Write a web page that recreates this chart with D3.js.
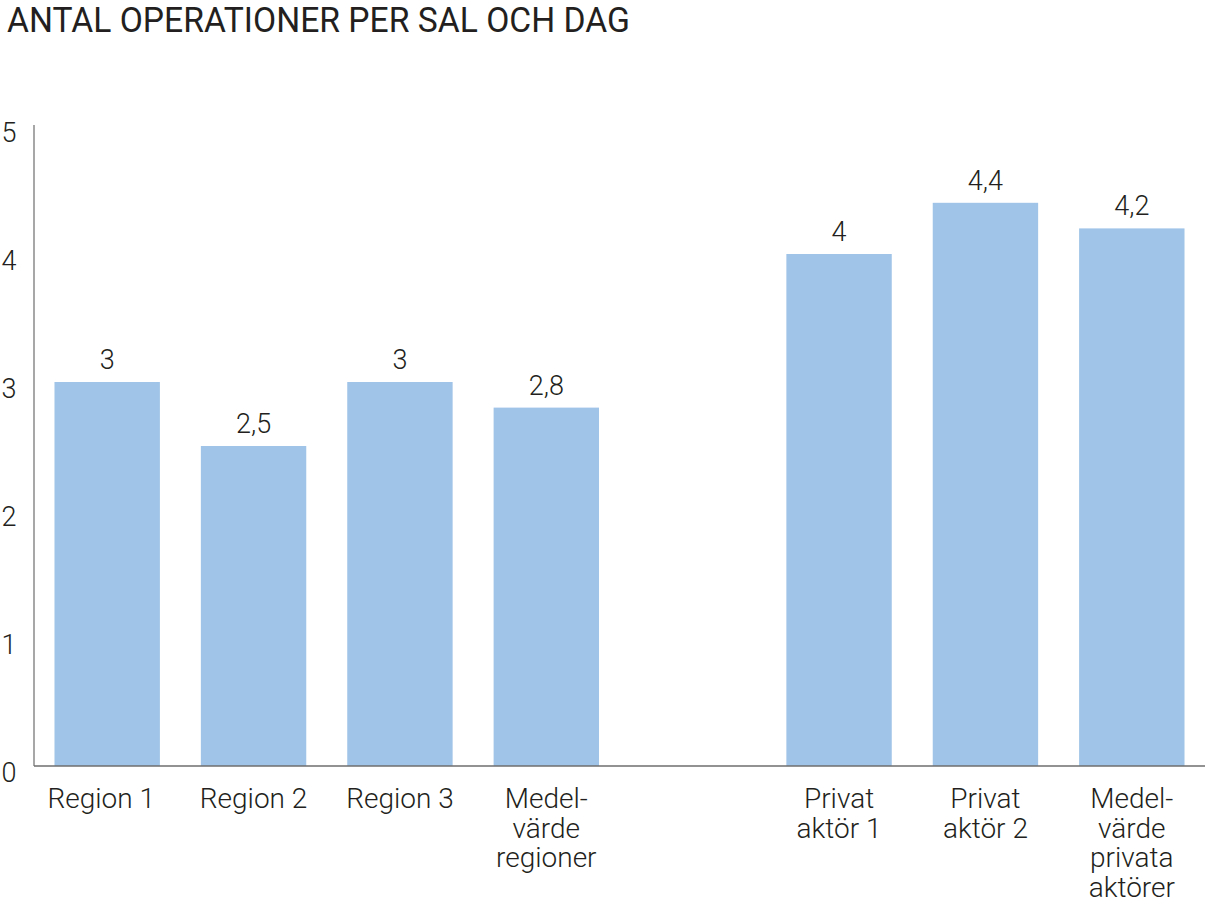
<!DOCTYPE html>
<html>
<head>
<meta charset="utf-8">
<script src="https://cdn.jsdelivr.net/npm/d3@7/dist/d3.min.js"></script>
<style>
  html, body { margin: 0; padding: 0; background: #fff; }
  svg { display: block; }
  text { font-family: Roboto, "Liberation Sans", sans-serif; font-weight: 300; fill: #231f20; }
</style>
</head>
<body>
<svg id="chart" width="1205" height="907"></svg>
<script>
const title = "ANTAL OPERATIONER PER SAL OCH DAG";
const categories = ["r1", "r2", "r3", "mr", "gap", "p1", "p2", "mp"];
const categoryLabels = [
  ["Region 1"],
  ["Region 2"],
  ["Region 3"],
  ["Medel-", "värde", "regioner"],
  [],
  ["Privat", "aktör 1"],
  ["Privat", "aktör 2"],
  ["Medel-", "värde", "privata", "aktörer"]
];
const values = [3, 2.5, 3, 2.8, null, 4, 4.4, 4.2];
const valueLabels = ["3", "2,5", "3", "2,8", "", "4", "4,4", "4,2"];
const yTicks = [0, 1, 2, 3, 4, 5];

const svg = d3.select("#chart");
const x0 = 34, x1 = 1205, yTop = 126, yBottom = 766;

const x = d3.scaleBand().domain(categories).range([x0, x1])
  .paddingInner(0.28).paddingOuter(0.14);
const y = d3.scaleLinear().domain([0, 5]).range([yBottom, yTop]);

// title
svg.append("text")
  .attr("x", 7).attr("y", 32)
  .attr("font-size", 35)
  .style("font-weight", 400)
  .attr("textLength", 623)
  .attr("lengthAdjust", "spacingAndGlyphs")
  .text(title);

// bars
const data = categories.map((c, i) => ({c, v: values[i], lab: valueLabels[i], cat: categoryLabels[i]}));
svg.append("g").selectAll("rect")
  .data(data.filter(d => d.v != null))
  .join("rect")
  .attr("x", d => x(d.c))
  .attr("width", x.bandwidth())
  .attr("y", d => y(d.v))
  .attr("height", d => y(0) - y(d.v))
  .attr("fill", "#a0c4e8");

// value labels
svg.append("g").selectAll("text")
  .data(data.filter(d => d.v != null))
  .join("text")
  .attr("x", d => x(d.c) + x.bandwidth() / 2)
  .attr("y", d => y(d.v) - 13)
  .attr("text-anchor", "middle")
  .attr("font-size", 27)
  .text(d => d.lab);

// y axis
const yAxis = d3.axisLeft(y).tickValues(yTicks).tickSize(0).tickPadding(0).tickFormat(d3.format("d"));
const ya = svg.append("g").attr("transform", `translate(${x0},0)`).call(yAxis);
ya.select(".domain").attr("stroke", "#8a8a8a").attr("stroke-width", 1.5)
  .attr("d", `M0,${yTop - 1}V${yBottom}`);
ya.selectAll(".tick text")
  .attr("x", 9 - x0).attr("dy", "0.32em").attr("y", 7)
  .attr("text-anchor", "middle")
  .attr("font-size", 27)
  .attr("font-family", "Roboto, sans-serif")
  .attr("font-weight", 300)
  .attr("fill", "#231f20");

// x axis baseline
const xAxis = d3.axisBottom(x).tickSize(0).tickFormat("");
const xa = svg.append("g").attr("transform", `translate(0,${yBottom})`).call(xAxis);
xa.select(".domain").attr("stroke", "#6e6e6e").attr("stroke-width", 1.5)
  .attr("d", `M${x0},0H${x1}`);

// category labels
const catG = svg.append("g").selectAll("text")
  .data(data)
  .join("text")
  .attr("x", d => x(d.c) + x.bandwidth() / 2)
  .attr("y", 808)
  .attr("text-anchor", "middle")
  .attr("font-size", 28);
catG.selectAll("tspan")
  .data(d => d.cat.map(t => ({t, cx: x(d.c) + x.bandwidth() / 2 - (d.c === "r1" ? 6 : 0)})))
  .join("tspan")
  .attr("x", d => d.cx)
  .attr("dy", (d, i) => i === 0 ? 0 : 29.7)
  .text(d => d.t);
</script>
</body>
</html>
